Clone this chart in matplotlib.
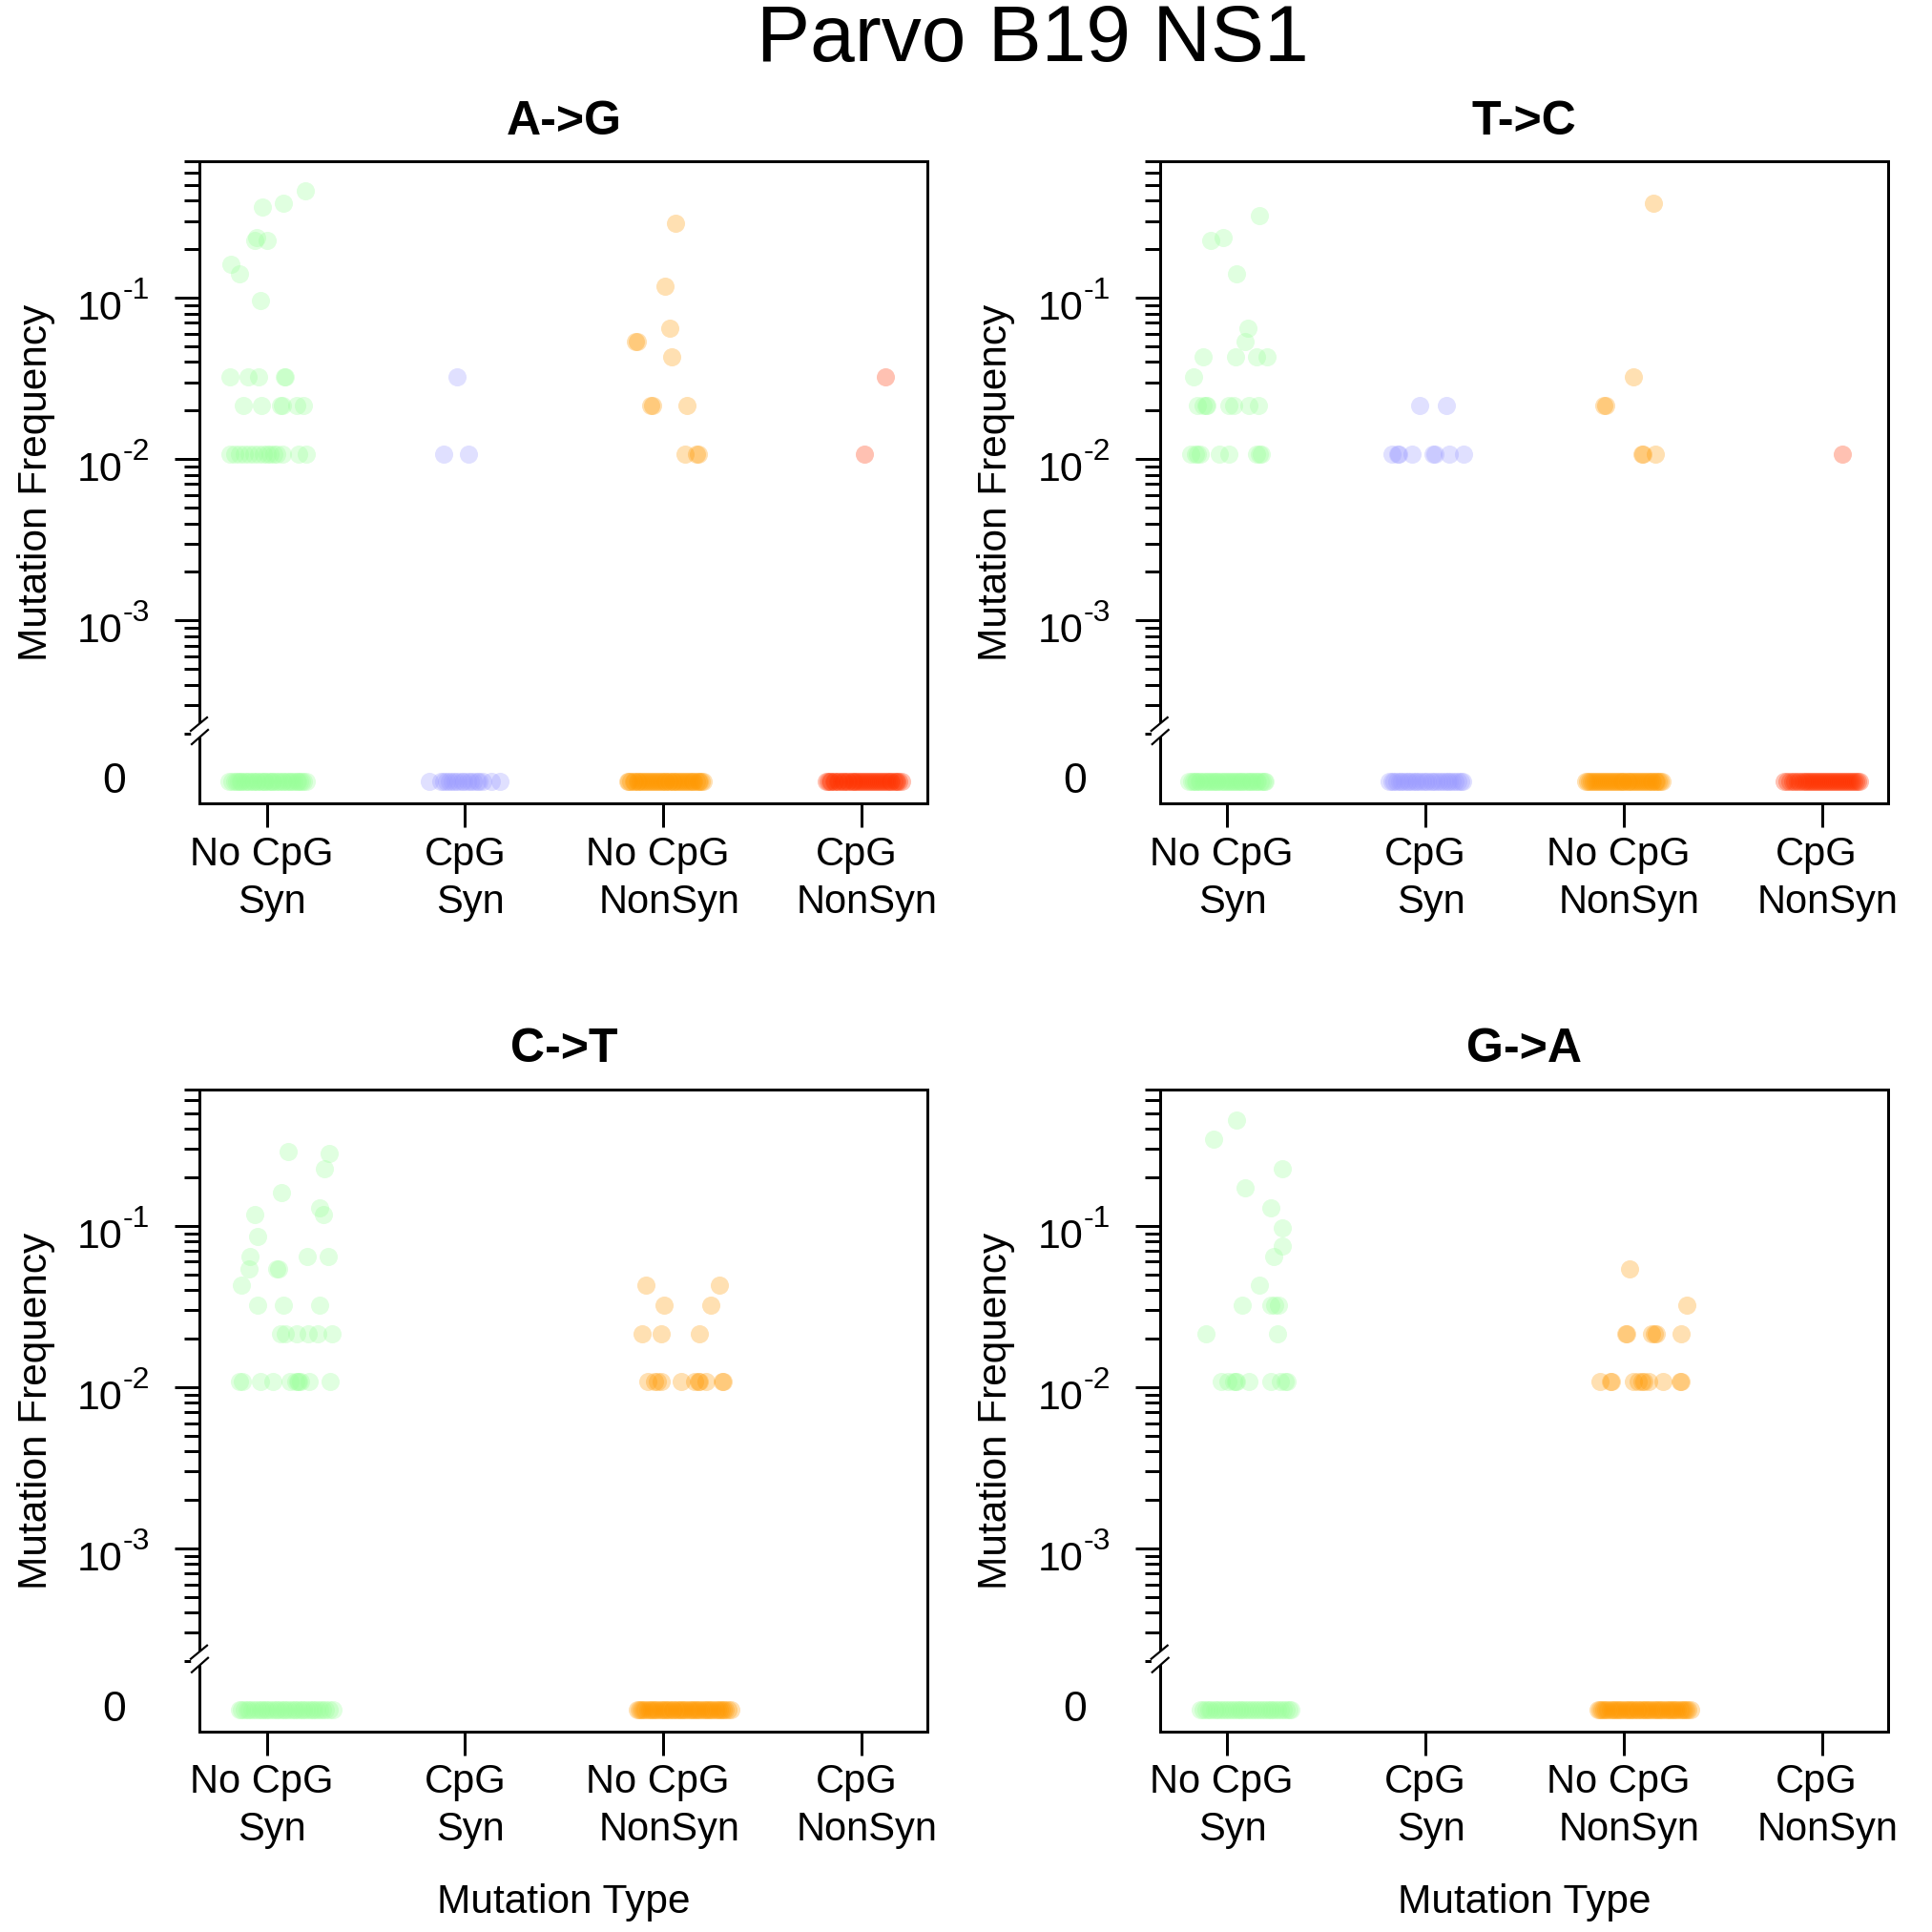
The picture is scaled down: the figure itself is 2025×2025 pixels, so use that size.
import matplotlib
matplotlib.use("Agg")
import numpy as np
import matplotlib.pyplot as plt
from matplotlib.patches import Polygon
from matplotlib.lines import Line2D
import matplotlib.transforms as mtransforms

plt.rcParams['font.family'] = ['Liberation Sans', 'DejaVu Sans']

# ---------------- data ----------------
TITLE = "Parvo B19 NS1"
PANELS = ["A->G", "T->C", "C->T", "G->A"]
CATEGORIES = ["No CpG \n Syn", "CpG\n Syn", "No CpG \n NonSyn", "CpG \n NonSyn"]
COLORS = ["#99FF99", "#9999FF", "#FF9900", "#FF3300"]
Y_LABEL = "Mutation Frequency"
X_LABEL = "Mutation Type"
Y_MAJOR = [1e-1, 1e-2, 1e-3]
Y_MAJOR_BASE = "10"
Y_MAJOR_EXP = ["-1", "-2", "-3"]
ZERO_LABEL = "0"

# A->G  (x = jittered category position, f = mutation frequency)
AG_NCS_X = [1.195, 0.978, 1.084, 0.948, 0.938, 1.004, 0.820, 0.863, 0.970,
            0.816, 0.908, 0.957, 1.090, 1.094,
            0.883, 0.975, 1.067, 1.080, 1.153, 1.184,
            0.816, 0.838, 0.862, 0.889, 0.910, 0.934, 0.958, 0.984, 1.000,
            1.018, 1.034, 1.050, 1.078, 1.160, 1.200]
AG_NCS_F = [0.462, 0.366, 0.387, 0.237, 0.226, 0.226, 0.161, 0.140, 0.0968,
            0.0323, 0.0323, 0.0323, 0.0323, 0.0323,
            0.0215, 0.0215, 0.0215, 0.0215, 0.0215, 0.0215,
            0.0108, 0.0108, 0.0108, 0.0108, 0.0108, 0.0108, 0.0108, 0.0108, 0.0108,
            0.0108, 0.0108, 0.0108, 0.0108, 0.0108, 0.0108]
AG_NCS_ZERO = [0.812, 0.823, 0.837, 0.846, 0.858, 0.869, 0.874, 0.888, 0.897, 0.905,
               0.917, 0.929, 0.936, 0.948, 0.955, 0.967, 0.976, 0.988, 0.994, 1.006,
               1.015, 1.027, 1.033, 1.046, 1.057, 1.064, 1.078, 1.085, 1.097, 1.108,
               1.116, 1.128, 1.137, 1.149, 1.156, 1.168, 1.177, 1.186, 1.198]
AG_CS_X = [1.957, 1.890, 2.015]
AG_CS_F = [0.0323, 0.0108, 0.0108]
AG_CS_ZERO = [1.822, 1.878, 1.893, 1.904, 1.921, 1.937, 1.948, 1.966, 1.983, 1.995,
              2.012, 2.027, 2.041, 2.058, 2.072, 2.089, 2.131, 2.178]
AG_NCN_X = [3.060, 3.010, 3.030, 2.860, 2.866, 3.040, 2.935, 2.945, 3.120, 3.110, 3.165, 3.175]
AG_NCN_F = [0.290, 0.118, 0.0645, 0.0538, 0.0538, 0.043, 0.0215, 0.0215, 0.0215, 0.0108, 0.0108, 0.0108]
AG_NCN_ZERO = [2.818, 2.827, 2.836, 2.848, 2.855, 2.866, 2.874, 2.885, 2.893, 2.904,
               2.913, 2.921, 2.933, 2.941, 2.952, 2.958, 2.969, 2.978, 2.987, 2.996,
               3.006, 3.014, 3.025, 3.033, 3.044, 3.052, 3.061, 3.072, 3.081, 3.089,
               3.098, 3.109, 3.117, 3.126, 3.137, 3.145, 3.154, 3.166, 3.174, 3.183,
               3.191, 3.199]
AG_CN_X = [4.120, 4.015]
AG_CN_F = [0.0323, 0.0108]
AG_CN_ZERO = [3.819, 3.828, 3.839, 3.847, 3.858, 3.866, 3.877, 3.885, 3.896, 3.905,
              3.914, 3.925, 3.933, 3.944, 3.953, 3.961, 3.972, 3.981, 3.990, 4.001,
              4.009, 4.018, 4.029, 4.037, 4.046, 4.057, 4.066, 4.074, 4.085, 4.094,
              4.103, 4.112, 4.123, 4.131, 4.142, 4.150, 4.161, 4.170, 4.179, 4.188, 4.199]

# T->C
TC_NCS_X = [1.160, 0.918, 0.978, 1.047, 1.104, 1.088,
            0.880, 1.040, 1.150, 1.200, 0.830,
            0.849, 0.880, 0.893, 0.900, 1.006, 1.030, 1.110, 1.157,
            0.818, 0.840, 0.849, 0.865, 0.960, 1.006, 1.148, 1.160, 1.170]
TC_NCS_F = [0.323, 0.226, 0.237, 0.140, 0.0645, 0.0538,
            0.043, 0.043, 0.043, 0.043, 0.0323,
            0.0215, 0.0215, 0.0215, 0.0215, 0.0215, 0.0215, 0.0215, 0.0215,
            0.0108, 0.0108, 0.0108, 0.0108, 0.0108, 0.0108, 0.0108, 0.0108, 0.0108]
TC_NCS_ZERO = [0.808, 0.819, 0.828, 0.839, 0.847, 0.858, 0.866, 0.877, 0.886, 0.897,
               0.905, 0.916, 0.925, 0.934, 0.945, 0.953, 0.964, 0.973, 0.982, 0.993,
               1.002, 1.011, 1.022, 1.030, 1.041, 1.050, 1.059, 1.070, 1.078, 1.089,
               1.098, 1.107, 1.118, 1.126, 1.137, 1.146, 1.155, 1.166, 1.175, 1.184, 1.191]
TC_CS_X = [1.970, 2.107, 1.830, 1.860, 1.866, 1.930, 2.040, 2.046, 2.120, 2.190]
TC_CS_F = [0.0215, 0.0215, 0.0108, 0.0108, 0.0108, 0.0108, 0.0108, 0.0108, 0.0108, 0.0108]
TC_CS_ZERO = [1.818, 1.829, 1.841, 1.856, 1.868, 1.879, 1.893, 1.906, 1.918, 1.933,
              1.947, 1.958, 1.972, 1.986, 1.997, 2.011, 2.026, 2.038, 2.052, 2.067,
              2.079, 2.094, 2.108, 2.121, 2.136, 2.149, 2.163, 2.177, 2.189]
TC_NCN_X = [3.150, 3.050, 2.900, 2.906, 3.090, 3.096, 3.160]
TC_NCN_F = [0.387, 0.0323, 0.0215, 0.0215, 0.0108, 0.0108, 0.0108]
TC_NCN_ZERO = [2.808, 2.817, 2.828, 2.836, 2.847, 2.855, 2.866, 2.874, 2.885, 2.894,
               2.903, 2.914, 2.922, 2.933, 2.941, 2.950, 2.961, 2.969, 2.978, 2.989,
               2.997, 3.006, 3.017, 3.025, 3.034, 3.045, 3.053, 3.062, 3.073, 3.081,
               3.090, 3.101, 3.109, 3.118, 3.129, 3.137, 3.146, 3.157, 3.165, 3.174,
               3.183, 3.191]
TC_CN_X = [4.100]
TC_CN_F = [0.0108]
TC_CN_ZERO = [3.808, 3.822, 3.836, 3.851, 3.863, 3.874, 3.886, 3.897, 3.909, 3.918,
              3.927, 3.938, 3.947, 3.958, 3.966, 3.977, 3.985, 3.996, 4.004, 4.015,
              4.023, 4.034, 4.043, 4.054, 4.062, 4.073, 4.081, 4.092, 4.101, 4.112,
              4.120, 4.131, 4.139, 4.150, 4.158, 4.169, 4.177, 4.188]

# C->T
CT_NCS_X = [1.110, 1.316, 1.293, 1.075, 0.940, 1.267, 1.284, 0.955, 0.916, 1.204, 1.312,
            0.912, 1.050, 1.058, 0.873,
            0.955, 1.084, 1.267,
            1.069, 1.095, 1.151, 1.209, 1.256, 1.327,
            0.864, 0.879, 0.968, 1.030, 1.118, 1.144, 1.155, 1.162, 1.172, 1.215, 1.320]
CT_NCS_F = [0.290, 0.280, 0.226, 0.161, 0.118, 0.129, 0.118, 0.086, 0.0645, 0.0645, 0.0645,
            0.0538, 0.0538, 0.0538, 0.043,
            0.0323, 0.0323, 0.0323,
            0.0215, 0.0215, 0.0215, 0.0215, 0.0215, 0.0215,
            0.0108, 0.0108, 0.0108, 0.0108, 0.0108, 0.0108, 0.0108, 0.0108, 0.0108, 0.0108, 0.0108]
CT_NCS_ZERO = [0.862, 0.874, 0.888, 0.901, 0.913, 0.926, 0.941, 0.952, 0.966, 0.979,
               0.991, 1.004, 1.018, 1.031, 1.043, 1.056, 1.070, 1.083, 1.095, 1.108,
               1.122, 1.135, 1.147, 1.160, 1.174, 1.187, 1.199, 1.212, 1.226, 1.239,
               1.251, 1.266, 1.281, 1.297, 1.316, 1.332]
CT_NCN_X = [2.910, 3.284, 3.004, 3.239, 2.890, 2.987, 3.183,
            2.920, 2.953, 2.968, 2.989, 3.088, 3.157, 3.174, 3.179, 3.217, 3.297, 3.300]
CT_NCN_F = [0.043, 0.043, 0.0323, 0.0323, 0.0215, 0.0215, 0.0215,
            0.0108, 0.0108, 0.0108, 0.0108, 0.0108, 0.0108, 0.0108, 0.0108, 0.0108, 0.0108, 0.0108]
CT_NCN_ZERO = [2.868, 2.878, 2.889, 2.898, 2.909, 2.920, 2.929, 2.940, 2.951, 2.960,
               2.971, 2.982, 2.991, 3.002, 3.013, 3.022, 3.033, 3.044, 3.053, 3.064,
               3.075, 3.084, 3.095, 3.106, 3.115, 3.126, 3.137, 3.146, 3.157, 3.168,
               3.177, 3.188, 3.199, 3.208, 3.219, 3.230, 3.239, 3.250, 3.261, 3.270,
               3.281, 3.292, 3.301, 3.312, 3.323, 3.338]

# G->A
GA_NCS_X = [1.045, 0.933, 1.279, 1.092, 1.221, 1.279, 1.279, 1.236, 1.163,
            1.077, 1.219, 1.240, 1.258,
            0.891, 1.255,
            0.972, 1.004, 1.030, 1.040, 1.047, 1.107, 1.219, 1.266, 1.293, 1.300]
GA_NCS_F = [0.452, 0.344, 0.226, 0.172, 0.129, 0.0968, 0.0753, 0.0645, 0.043,
            0.0323, 0.0323, 0.0323, 0.0323,
            0.0215, 0.0215,
            0.0108, 0.0108, 0.0108, 0.0108, 0.0108, 0.0108, 0.0108, 0.0108, 0.0108, 0.0108]
GA_NCS_ZERO = [0.863, 0.877, 0.891, 0.906, 0.919, 0.934, 0.947, 0.961, 0.975, 0.990,
               1.003, 1.017, 1.031, 1.046, 1.059, 1.073, 1.087, 1.102, 1.115, 1.129,
               1.143, 1.158, 1.171, 1.185, 1.199, 1.214, 1.227, 1.241, 1.255, 1.270,
               1.283, 1.297, 1.311, 1.322]
GA_NCN_X = [3.030, 3.319,
            3.008, 3.014, 3.140, 3.155, 3.165, 3.290,
            2.878, 2.931, 2.935, 3.047, 3.070, 3.090, 3.100, 3.127, 3.199, 3.285, 3.290]
GA_NCN_F = [0.0538, 0.0323,
            0.0215, 0.0215, 0.0215, 0.0215, 0.0215, 0.0215,
            0.0108, 0.0108, 0.0108, 0.0108, 0.0108, 0.0108, 0.0108, 0.0108, 0.0108, 0.0108, 0.0108]
GA_NCN_ZERO = [2.868, 2.879, 2.888, 2.899, 2.910, 2.919, 2.930, 2.941, 2.950, 2.961,
               2.972, 2.981, 2.992, 3.003, 3.012, 3.023, 3.034, 3.043, 3.054, 3.065,
               3.074, 3.085, 3.096, 3.105, 3.116, 3.127, 3.136, 3.147, 3.158, 3.167,
               3.178, 3.189, 3.198, 3.209, 3.220, 3.229, 3.240, 3.251, 3.260, 3.271,
               3.282, 3.291, 3.302, 3.313, 3.322, 3.336]

PANEL_SERIES = {
    "A->G": [(AG_NCS_X, AG_NCS_F, AG_NCS_ZERO), (AG_CS_X, AG_CS_F, AG_CS_ZERO),
             (AG_NCN_X, AG_NCN_F, AG_NCN_ZERO), (AG_CN_X, AG_CN_F, AG_CN_ZERO)],
    "T->C": [(TC_NCS_X, TC_NCS_F, TC_NCS_ZERO), (TC_CS_X, TC_CS_F, TC_CS_ZERO),
             (TC_NCN_X, TC_NCN_F, TC_NCN_ZERO), (TC_CN_X, TC_CN_F, TC_CN_ZERO)],
    "C->T": [(CT_NCS_X, CT_NCS_F, CT_NCS_ZERO), ([], [], []),
             (CT_NCN_X, CT_NCN_F, CT_NCN_ZERO), ([], [], [])],
    "G->A": [(GA_NCS_X, GA_NCS_F, GA_NCS_ZERO), ([], [], []),
             (GA_NCN_X, GA_NCN_F, GA_NCN_ZERO), ([], [], [])],
}

# ---------------- layout ----------------
W = H = 2025
DPI = 100
fig = plt.figure(figsize=(W / DPI, H / DPI), dpi=DPI)

BOX_W = 763.0
BOX_H = 673.0
LEFTS = [209.3, 1216.0]
TOPS = [169.3, 1142.0]
ZERO_LEVEL = -4.0
YLIM = (-4.135, np.log10(0.7))
XLIM = (0.662, 4.332)
PT = 72.0 / DPI  # points per pixel
LW = 3 * PT
FS_X = 30
FS_LAB = 30.5
FS_Y = 31
FS_SUP = 23
SPACE_HALF = 0.278 * FS_X / PT / 2  # half a space, in pixels

def fx(px):
    return px / W

def fy(py):
    return 1 - py / H

minor_vals = [m * 10.0 ** e for e in (-4, -3, -2) for m in range(2, 10)] + [0.2, 0.3, 0.4, 0.5, 0.6, 0.7]

for idx, name in enumerate(PANELS):
    row, col = divmod(idx, 2)
    L, T = LEFTS[col], TOPS[row]
    ax = fig.add_axes([fx(L), fy(T + BOX_H), BOX_W / W, BOX_H / H])
    ax.set_xlim(*XLIM)
    ax.set_ylim(*YLIM)
    for sp in ax.spines.values():
        sp.set_linewidth(LW)

    for c, (xs, fs, zx) in enumerate(PANEL_SERIES[name]):
        if len(zx):
            ax.scatter(zx, [ZERO_LEVEL] * len(zx), s=188, c=COLORS[c], alpha=0.3,
                       linewidths=0, zorder=3)
        if len(xs):
            ax.scatter(xs, np.log10(fs), s=188, c=COLORS[c], alpha=0.3,
                       linewidths=0, zorder=3)

    # y ticks
    ax.set_yticks(np.log10(Y_MAJOR))
    ax.set_yticks(np.log10(minor_vals), minor=True)
    ax.set_yticklabels([])
    ax.tick_params(axis='y', which='major', length=26 * PT, width=LW, direction='out')
    ax.tick_params(axis='y', which='minor', length=16 * PT, width=LW, direction='out')
    ax.tick_params(axis='y', which='both', right=False)
    # x ticks
    ax.set_xticks([1, 2, 3, 4])
    ax.set_xticklabels([])
    ax.tick_params(axis='x', length=25 * PT, width=LW, direction='out', top=False)

    ytr = ax.get_yaxis_transform()
    base_tr = mtransforms.offset_copy(ytr, fig=fig, x=0, y=-22.7, units='dots')
    sup_tr = mtransforms.offset_copy(ytr, fig=fig, x=0, y=-0.7, units='dots')
    for v, ex in zip(Y_MAJOR, Y_MAJOR_EXP):
        ax.text(-80.5 / BOX_W, np.log10(v), Y_MAJOR_BASE, transform=base_tr, ha='right',
                va='baseline', fontsize=FS_Y, clip_on=False)
        ax.text(-80.5 / BOX_W, np.log10(v), ex, transform=sup_tr, ha='left',
                va='baseline', fontsize=FS_SUP, clip_on=False)
    ax.text(-89.7 / BOX_W, ZERO_LEVEL, ZERO_LABEL, transform=ytr, ha='center', va='center',
            fontsize=FS_Y + 1, clip_on=False)

    xtr = ax.get_xaxis_transform()
    for c, lab in enumerate(CATEGORIES):
        for line, base in zip(lab.split("\n"), (64.5, 114.5)):
            shift = (len(line) - len(line.lstrip(" ")) - (len(line) - len(line.rstrip(" ")))) * SPACE_HALF
            tr = mtransforms.offset_copy(xtr, fig=fig, x=shift, y=0, units='dots')
            ax.text(c + 1, -base / BOX_H, line.strip(), transform=tr, ha='center',
                    va='baseline', fontsize=FS_X, clip_on=False)

    # panel title
    fig.text(fx(L + BOX_W / 2), fy(T - 28.6), name, ha='center', va='baseline',
             fontsize=36, fontweight='bold')
    # y label
    fig.text(fx(L - 171.5), fy(T + BOX_H / 2), Y_LABEL, rotation=90, ha='center',
             va='center', fontsize=FS_LAB)
    if row == 1:
        fig.text(fx(L + BOX_W / 2), fy(T + BOX_H + 190), X_LABEL, ha='center',
                 va='baseline', fontsize=FS_LAB)

    # axis break marks
    brk = [(L - 9.3, T + 596.7), (L + 7.7, T + 582.7), (L + 8.7, T + 595.7), (L - 8.3, T + 610.7)]
    fig.patches.append(Polygon([(fx(a), fy(b)) for a, b in brk], closed=True,
                               transform=fig.transFigure, facecolor='white',
                               edgecolor='none', zorder=5))
    for (a1, b1), (a2, b2) in [((L - 9.3, T + 596.7), (L + 7.7, T + 582.7)),
                               ((L - 8.3, T + 610.7), (L + 8.7, T + 595.7))]:
        fig.lines.append(Line2D([fx(a1), fx(a2)], [fy(b1), fy(b2)], transform=fig.transFigure,
                                color='black', linewidth=2.2 * PT, zorder=6))

fig.text(fx(1082), fy(64.3), TITLE, ha='center', va='baseline', fontsize=60.5)

fig.savefig("out.png", dpi=DPI)
